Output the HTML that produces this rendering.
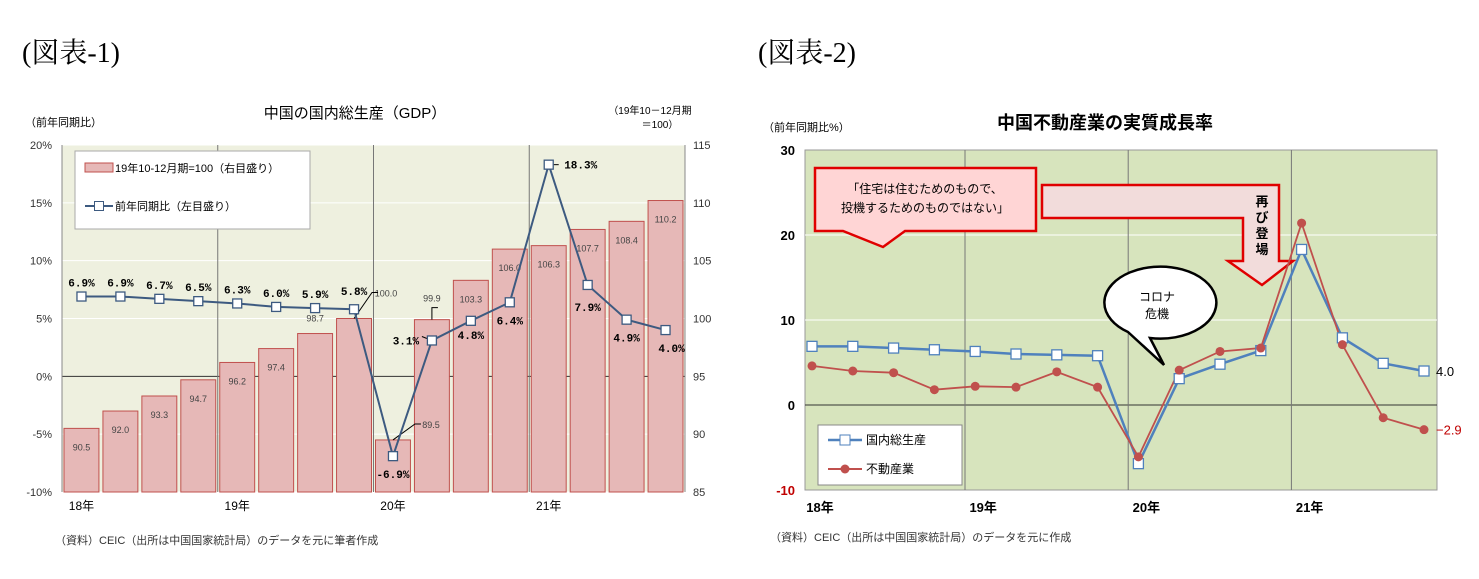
<!DOCTYPE html>
<html><head><meta charset="utf-8">
<style>
body{margin:0;background:#fff;}
svg{display:block;font-family:"Liberation Sans","Noto Sans CJK JP",sans-serif;}
</style></head>
<body>
<svg width="1479" height="579" viewBox="0 0 1479 579" xmlns="http://www.w3.org/2000/svg">
<text x="22" y="62" font-size="28" font-family="Liberation Serif,Noto Serif CJK SC,serif">(図表-1)</text>
<text x="758" y="62" font-size="28" font-family="Liberation Serif,Noto Serif CJK SC,serif">(図表-2)</text>
<g id="c1"></g>
<g id="c2"></g>
</svg>
<script>
const quarters=["18Q1","18Q2","18Q3","18Q4","19Q1","19Q2","19Q3","19Q4","20Q1","20Q2","20Q3","20Q4","21Q1","21Q2","21Q3","21Q4"];
const yearLabels=["18年","19年","20年","21年"];
const gdpYoy=[6.9,6.9,6.7,6.5,6.3,6.0,5.9,5.8,-6.9,3.1,4.8,6.4,18.3,7.9,4.9,4.0];
const gdpIndex=[90.5,92.0,93.3,94.7,96.2,97.4,98.7,100.0,89.5,99.9,103.3,106.0,106.3,107.7,108.4,110.2];
const realEstate=[4.6,4.0,3.8,1.8,2.2,2.1,3.9,2.1,-6.1,4.1,6.3,6.7,21.4,7.1,-1.5,-2.9];
const leftTicks1=[-10,-5,0,5,10,15,20];
const rightTicks1=[85,90,95,100,105,110,115];
const ticks2=[-10,0,10,20,30];
const NS="http://www.w3.org/2000/svg";
function mk(p,tag,a,txt){const e=document.createElementNS(NS,tag);for(const k in a)e.setAttribute(k,a[k]);if(txt!==undefined)e.textContent=txt;p.appendChild(e);return e;}

// ---------- Chart 1 ----------
const c1=document.getElementById('c1');
const L1=62,R1=685,T1=145,B1=492,n=quarters.length,bw=(R1-L1)/n;
const y1=v=>B1-(v-(-10))/30*(B1-T1);
const yr=v=>B1-(v-85)/30*(B1-T1);
const x1=i=>L1+bw*(i+0.5);
mk(c1,'text',{x:355,y:118,'font-size':15,'text-anchor':'middle',},'中国の国内総生産（GDP）');
mk(c1,'text',{x:25,y:126,'font-size':11,},'（前年同期比）');
mk(c1,'text',{x:650,y:114,'font-size':10,'text-anchor':'middle',},'（19年10－12月期');
mk(c1,'text',{x:660,y:128,'font-size':10,'text-anchor':'middle',},'＝100）');
mk(c1,'rect',{x:L1,y:T1,width:R1-L1,height:B1-T1,fill:'#eef0df',});
leftTicks1.forEach(t=>{
  const yy=y1(t);
  const g=mk(c1,'line',{x1:L1,x2:R1,y1:yy,y2:yy,stroke:t===0?'#333':'#fff','stroke-width':1});
  
  const tl=mk(c1,'text',{x:L1-10,y:yy+4,'font-size':11,'text-anchor':'end',fill:'#333'},t+'%');
  
});
rightTicks1.forEach(t=>{
  const tl=mk(c1,'text',{x:R1+8,y:yr(t)+4,'font-size':11,fill:'#333'},t);
  
});
[4,8,12].forEach(i=>{const l=mk(c1,'line',{x1:L1+bw*i,x2:L1+bw*i,y1:T1,y2:B1,stroke:'#777','stroke-width':1});
  });
gdpIndex.forEach((v,i)=>{
  const b=mk(c1,'rect',{x:L1+bw*i+2,y:yr(v),width:bw-4,height:B1-yr(v),fill:'#e6b8b7',stroke:'#c0504d','stroke-width':1});
  
});
gdpIndex.forEach((v,i)=>{
  let ty=yr(v)+22;
  if(i===7){ty=yr(v)-22;}
  if(i===8){ty=yr(v)-12;}
  if(i===9){ty=yr(v)-18;}
  if(i===6){ty=yr(v)-12;}
  let tx=x1(i);
  if(i===7)tx=x1(i)+32;
  if(i===8)tx=x1(i)+38;
  const t=mk(c1,'text',{x:tx,y:ty,'font-size':9,'text-anchor':'middle',fill:'#444'},v.toFixed(1));
  
});
// leader lines
const ld=[[7,yr(gdpIndex[7]),x1(7)+18,yr(gdpIndex[7])-26],[8,yr(gdpIndex[8]),x1(8)+22,yr(gdpIndex[8])-16],[9,yr(gdpIndex[9]),x1(9),yr(gdpIndex[9])-12]];
ld.forEach(d=>{const l=mk(c1,'polyline',{points:x1(d[0])+','+d[1]+' '+d[2]+','+d[3]+' '+(d[2]+6)+','+d[3],fill:'none',stroke:'#000','stroke-width':1});
  });
mk(c1,'line',{x1:x1(12)+5,x2:x1(12)+10,y1:y1(gdpYoy[12]),y2:y1(gdpYoy[12]),stroke:'#000',});
mk(c1,'line',{x1:x1(9)-5,x2:x1(9)-10,y1:y1(gdpYoy[9])-2,y2:y1(gdpYoy[9])-4,stroke:'#000',});
mk(c1,'line',{x1:L1,x2:L1,y1:T1,y2:B1,stroke:'#888'});
mk(c1,'line',{x1:R1,x2:R1,y1:T1,y2:B1,stroke:'#888'});
mk(c1,'polyline',{points:gdpYoy.map((v,i)=>x1(i)+','+y1(v)).join(' '),fill:'none',stroke:'#3d5a80','stroke-width':2,});
gdpYoy.forEach((v,i)=>{
  const m=mk(c1,'rect',{x:x1(i)-4.5,y:y1(v)-4.5,width:9,height:9,fill:'#fff',stroke:'#3d5a80','stroke-width':1.3});
  
  let tx=x1(i),ty=y1(v)-10;
  if(i===7){ty=y1(v)-14;}
  if(i===8){ty=y1(v)+22;}
  if(i===9){tx=x1(i)-26;ty=y1(v)+4;}
  if(i===10){ty=y1(v)+18;}
  if(i===11){ty=y1(v)+22;}
  if(i===12){tx=x1(i)+32;ty=y1(v)+4;}
  if(i===13){ty=y1(v)+26;}
  if(i===14){ty=y1(v)+22;}
  if(i===15){tx=x1(i)+6;ty=y1(v)+22;}
  const t=mk(c1,'text',{x:tx,y:ty,'font-size':11,'font-weight':'bold','text-anchor':'middle','font-family':'Liberation Mono,monospace'},v.toFixed(1)+'%');
  
});
yearLabels.forEach((s,k)=>{const t=mk(c1,'text',{x:x1(k*4),y:510,'font-size':12,'text-anchor':'middle'},s);
  });
// legend
mk(c1,'rect',{x:75,y:151,width:235,height:78,fill:'#fff',stroke:'#aaa',});
mk(c1,'rect',{x:85,y:163,width:28,height:9,fill:'#e6b8b7',stroke:'#c0504d',});
mk(c1,'text',{x:115,y:172,'font-size':11,},'19年10-12月期=100（右目盛り）');
mk(c1,'line',{x1:85,x2:113,y1:206,y2:206,stroke:'#3d5a80','stroke-width':2});
mk(c1,'rect',{x:94.5,y:201.5,width:9,height:9,fill:'#fff',stroke:'#3d5a80',});
mk(c1,'text',{x:115,y:210,'font-size':11,},'前年同期比（左目盛り）');
mk(c1,'text',{x:55,y:544,'font-size':11,fill:'#333',},'（資料）CEIC（出所は中国国家統計局）のデータを元に筆者作成');

// ---------- Chart 2 ----------
const c2=document.getElementById('c2');
const L2=805,R2=1437,T2=150,B2=490,sp=40.8,X0=812;
const y2=v=>B2-(v+10)/40*(B2-T2);
const x2=i=>X0+sp*i;
mk(c2,'text',{x:1105,y:129,'font-size':18,'font-weight':'bold','text-anchor':'middle',},'中国不動産業の実質成長率');
mk(c2,'text',{x:763,y:131,'font-size':11,},'（前年同期比%）');
mk(c2,'rect',{x:L2,y:T2,width:R2-L2,height:B2-T2,fill:'#d7e4bd',stroke:'#999',});
ticks2.forEach(t=>{const yy=y2(t);
  if(t>-10&&t<30){const l=mk(c2,'line',{x1:L2,x2:R2,y1:yy,y2:yy,stroke:t===0?'#333':'#fff','stroke-width':1});
  }
  const tl=mk(c2,'text',{x:L2-10,y:yy+5,'font-size':13,'font-weight':'bold','text-anchor':'end',fill:t<0?'#c00000':'#000'},t);
  });
[3.75,7.75,11.75].forEach(k=>{const l=mk(c2,'line',{x1:x2(k),x2:x2(k),y1:T2,y2:B2,stroke:'#777'});
  });
yearLabels.forEach((s,k)=>{const t=mk(c2,'text',{x:x2(k*4)+8,y:512,'font-size':13,'font-weight':'bold','text-anchor':'middle'},s);
  });
// callouts
mk(c2,'path',{d:'M815,168 H1036 V231 H905 L883,247 L843,231 H815 Z',fill:'#ffd5d5',stroke:'#e00000','stroke-width':2.5,});
mk(c2,'text',{x:925,y:193,'font-size':12,'text-anchor':'middle',},'「住宅は住むためのもので、');
mk(c2,'text',{x:925,y:212,'font-size':12,'text-anchor':'middle',},'投機するためのものではない」');
mk(c2,'path',{d:'M1042,185 H1279 V261 H1293 L1262,285 L1228,261 H1243 V218 H1042 Z',fill:'#f2dcdb',stroke:'#e00000','stroke-width':2.5,});
['再','び','登','場'].forEach((c,k)=>{const t=mk(c2,'text',{x:1262,y:206+k*16,'font-size':13,'font-weight':'bold','text-anchor':'middle'},c);
  });
mk(c2,'path',{d:'M1150,338 A56,36 0 1 0 1128,332 L1164,365 Z',fill:'#fff',stroke:'#000','stroke-width':2.5,});
mk(c2,'text',{x:1157,y:301,'font-size':12,'text-anchor':'middle',},'コロナ');
mk(c2,'text',{x:1157,y:318,'font-size':12,'text-anchor':'middle',},'危機');
// series
mk(c2,'polyline',{points:gdpYoy.map((v,i)=>x2(i)+','+y2(v)).join(' '),fill:'none',stroke:'#4f81bd','stroke-width':2.5,});
mk(c2,'polyline',{points:realEstate.map((v,i)=>x2(i)+','+y2(v)).join(' '),fill:'none',stroke:'#c0504d','stroke-width':1.8,});
gdpYoy.forEach((v,i)=>{const m=mk(c2,'rect',{x:x2(i)-5,y:y2(v)-5,width:10,height:10,fill:'#fff',stroke:'#4f81bd','stroke-width':1.3});
  });
realEstate.forEach((v,i)=>{const m=mk(c2,'circle',{cx:x2(i),cy:y2(v),r:4.5,fill:'#c0504d'});
  });
const tg=mk(c2,'text',{x:x2(15)+12,y:y2(gdpYoy[15])+5,'font-size':13},gdpYoy[15].toFixed(1));

const tr=mk(c2,'text',{x:x2(15)+12,y:y2(realEstate[15])+5,'font-size':13,fill:'#c00000'},'−'+Math.abs(realEstate[15]).toFixed(1));

// legend 2
mk(c2,'rect',{x:818,y:425,width:144,height:60,fill:'#fff',stroke:'#888',});
mk(c2,'line',{x1:828,x2:862,y1:440,y2:440,stroke:'#4f81bd','stroke-width':2.5});
mk(c2,'rect',{x:840,y:435,width:10,height:10,fill:'#fff',stroke:'#4f81bd',});
mk(c2,'text',{x:866,y:444,'font-size':12,},'国内総生産');
mk(c2,'line',{x1:828,x2:862,y1:469,y2:469,stroke:'#c0504d','stroke-width':2});
mk(c2,'circle',{cx:845,cy:469,r:4.5,fill:'#c0504d',});
mk(c2,'text',{x:866,y:473,'font-size':12,},'不動産業');
mk(c2,'text',{x:770,y:541,'font-size':11,fill:'#333',},'（資料）CEIC（出所は中国国家統計局）のデータを元に作成');
</script>
</body></html>
